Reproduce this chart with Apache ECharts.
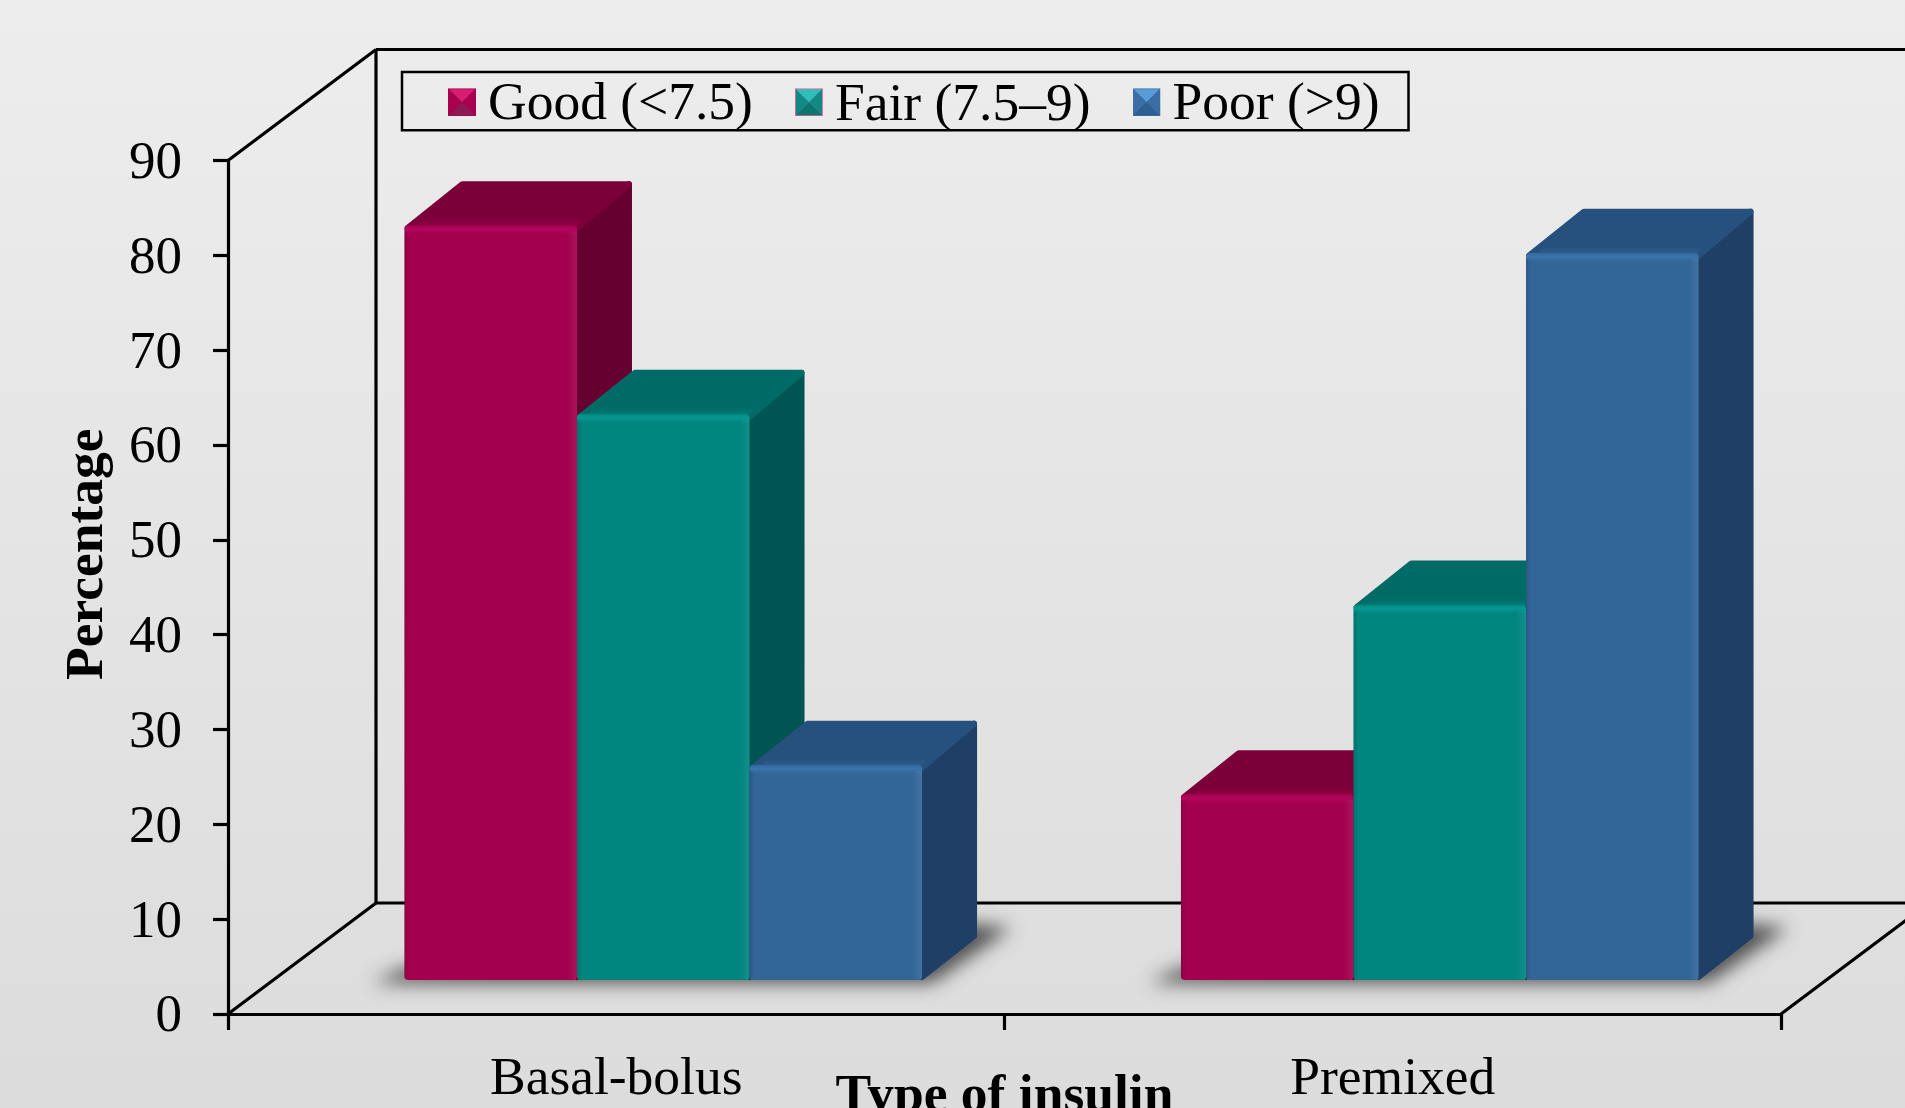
<!DOCTYPE html>
<html>
<head>
<meta charset="utf-8">
<title>Type of insulin</title>
<style>
html, body { margin: 0; padding: 0; overflow: hidden; }
#chart { width: 1905px; height: 1108px; }
</style>
<script src="https://cdn.jsdelivr.net/npm/echarts@6/dist/echarts.min.js"></script>
</head>
<body>
<div id="chart"></div>
<script>
// data
var categories = ['Basal-bolus', 'Premixed'];
var yTicks = [0, 90, 10];
var goodValues = [79.6, 19.6];
var fairValues = [59.7, 39.6];
var poorValues = [22.7, 76.7];

var FONT = '"Liberation Serif", "Times New Roman", serif';
var AXIS_WIDTH = 3.2;

// depth of the drawn box around the plot, and of the bars
var WALL_DX = 148, WALL_DY = 111;
var BAR_DX = 55, BAR_DY = 44;
var FLOOR_DX = 47, FLOOR_DY = 34;
var BAR_RATIO = 0.2222;

function legendIcon(top, mid, bottom, border) {
    var svg = '<svg xmlns="http://www.w3.org/2000/svg" width="30" height="30">' +
        '<rect width="30" height="30" fill="' + border + '"/>' +
        '<polygon points="1,1 29,1 15,15" fill="' + top + '"/>' +
        '<polygon points="1,1 15,15 1,29" fill="' + mid + '"/>' +
        '<polygon points="29,1 15,15 29,29" fill="' + mid + '"/>' +
        '<polygon points="1,29 29,29 15,15" fill="' + bottom + '"/></svg>';
    return 'image://data:image/svg+xml;charset=utf-8,' + encodeURIComponent(svg);
}

function barSeries(name, values, slot, c) {
    return {
        name: name,
        type: 'custom',
        z: 5,
        data: values.map(function (v, i) { return [i, v]; }),
        encode: { x: 0, y: 1 },
        itemStyle: { color: c.front },
        renderItem: function (params, api) {
            var cat = api.value(0);
            var p = api.coord([cat, api.value(1)]);
            var base = api.coord([cat, 0]);
            var w = api.size([1, 0])[0] * BAR_RATIO;
            var x0 = p[0] + FLOOR_DX + (slot - 0.5) * w;
            var x1 = x0 + w;
            var yTop = p[1] - FLOOR_DY;
            var yBase = base[1] - FLOOR_DY;
            var h = yBase - yTop;
            return {
                type: 'group',
                children: [
                    {
                        type: 'polygon',
                        shape: { points: [[x1, yTop + 3], [x1 + BAR_DX - 3, yTop - BAR_DY + 3], [x1 + BAR_DX - 3, yBase - BAR_DY], [x1, yBase - 3]] },
                        style: { fill: c.side, stroke: c.side, lineWidth: 6, lineJoin: 'round' }
                    },
                    {
                        type: 'polygon',
                        shape: { points: [[x0 + 3, yTop + 3], [x0 + BAR_DX + 3, yTop - BAR_DY + 3], [x1 + BAR_DX - 3, yTop - BAR_DY + 3], [x1, yTop + 3]] },
                        style: {
                            fill: { type: 'linear', x: 0, y: 0, x2: 0, y2: 1, colorStops: [
                                { offset: 0, color: c.top }, { offset: 0.75, color: c.top }, { offset: 1, color: c.front }
                            ] },
                            stroke: c.top, lineWidth: 6, lineJoin: 'round'
                        }
                    },
                    {
                        type: 'rect',
                        shape: { x: x0, y: yTop, width: w, height: h, r: 4 },
                        style: {
                            fill: { type: 'linear', x: 0, y: 0, x2: 0, y2: 1, colorStops: [
                                { offset: 0, color: c.front },
                                { offset: 4 / h, color: c.light },
                                { offset: 9 / h, color: c.front },
                                { offset: 1, color: c.front }
                            ] }
                        }
                    },
                    {
                        type: 'rect',
                        shape: { x: x0, y: yTop + 6, width: w, height: h - 7 },
                        style: {
                            fill: { type: 'linear', x: 0, y: 0, x2: 1, y2: 0, colorStops: [
                                { offset: 0, color: 'rgba(0,0,0,0.14)' },
                                { offset: 0.03, color: 'rgba(0,0,0,0)' },
                                { offset: 0.94, color: 'rgba(255,255,255,0)' },
                                { offset: 1, color: 'rgba(255,255,255,0.08)' }
                            ] }
                        }
                    }
                ]
            };
        }
    };
}

// soft shadow on the floor, under each group of bars.
// the shape sits off the page so that only its blurred shadow shows
var SHADOW_SHIFT = 4000;
var shadowSeries = {
    type: 'custom',
    silent: true,
    z: 3,
    data: categories.map(function (c, i) { return [i, 0]; }),
    encode: { x: 0, y: 1 },
    renderItem: function (params, api) {
        var base = api.coord([api.value(0), 0]);
        var w = api.size([1, 0])[0] * BAR_RATIO;
        var x0 = base[0] + FLOOR_DX - 1.5 * w - SHADOW_SHIFT;
        var x1 = x0 + 3 * w;
        var y = base[1] - FLOOR_DY;
        return {
            type: 'polygon',
            shape: { points: [[x0 - 32, y + 3], [x1 + 10, y + 3], [x1 + BAR_DX + 34, y - BAR_DY - 8], [x1 + BAR_DX, y - BAR_DY - 12], [x0, y - 12]] },
            style: { fill: '#000', shadowBlur: 18, shadowColor: 'rgba(55,55,55,0.85)', shadowOffsetX: SHADOW_SHIFT, shadowOffsetY: 0 }
        };
    }
};

// back wall and floor wireframe, taken from the axis ends
var frameSeries = {
    type: 'custom',
    silent: true,
    z: 1,
    data: [[0, 0]],
    encode: { x: 0, y: 1 },
    renderItem: function (params, api) {
        var half = api.size([1, 0])[0] / 2;
        var origin = api.coord([0, yTicks[0]]);
        var top = api.coord([0, yTicks[1]]);
        var end = api.coord([categories.length - 1, yTicks[0]]);
        var left = origin[0] - half, right = end[0] + half;
        var lines = [
            [left, top[1], left + WALL_DX, top[1] - WALL_DY],
            [left + WALL_DX, top[1] - WALL_DY, right + WALL_DX, top[1] - WALL_DY],
            [left + WALL_DX, top[1] - WALL_DY, left + WALL_DX, origin[1] - WALL_DY],
            [left + WALL_DX, origin[1] - WALL_DY, right + WALL_DX, origin[1] - WALL_DY],
            [left, origin[1], left + WALL_DX, origin[1] - WALL_DY],
            [right, origin[1], right + WALL_DX, origin[1] - WALL_DY]
        ];
        return {
            type: 'group',
            children: lines.map(function (l) {
                return {
                    type: 'line',
                    shape: { x1: l[0], y1: l[1], x2: l[2], y2: l[3] },
                    style: { stroke: '#000', lineWidth: AXIS_WIDTH }
                };
            })
        };
    }
};

var myChart = echarts.init(document.getElementById('chart'));

var option = {
    animation: false,
    backgroundColor: {
        type: 'linear', x: 0, y: 0, x2: 0, y2: 1,
        colorStops: [{ offset: 0, color: '#ededed' }, { offset: 1, color: '#dcdcdc' }]
    },
    grid: { left: 228, right: 124, top: 160.5, bottom: 94, outerBoundsMode: 'none' },
    legend: {
        left: 402,
        top: 72,
        orient: 'horizontal',
        padding: [5.75, 29, -2.65, 46],
        itemWidth: 28,
        itemHeight: 28,
        itemGap: 42,
        borderColor: '#000',
        borderWidth: 2.5,
        formatter: function (name) {
            return (name.indexOf('Fair') === 0 ? '{fair|' : '{item|') + name + '}';
        },
        textStyle: {
            fontFamily: FONT,
            fontSize: 53.5,
            color: '#000',
            rich: {
                item: { fontFamily: FONT, fontSize: 53.5, color: '#000', padding: [5, 0, 0, 7] },
                fair: { fontFamily: FONT, fontSize: 53.5, color: '#000', padding: [7.4, 0, 0, 7] }
            }
        },
        data: [
            { name: 'Good (<7.5)', icon: legendIcon('#d81e70', '#a8004f', '#8c1a52', '#a8004f') },
            { name: 'Fair (7.5–9)', icon: legendIcon('#2fbfba', '#0f8a85', '#0b7570', '#e0659a') },
            { name: 'Poor (>9)', icon: legendIcon('#5b9bd8', '#3a6ea5', '#2f5e90', '#3a6ea5') }
        ]
    },
    xAxis: {
        type: 'category',
        data: categories,
        name: 'Type of insulin',
        nameLocation: 'middle',
        nameGap: 56,
        nameMoveOverlap: false,
        nameTextStyle: { fontFamily: FONT, fontSize: 53.5, fontWeight: 'bold', color: '#000' },
        axisLine: { lineStyle: { color: '#000', width: AXIS_WIDTH } },
        axisTick: { show: true, length: 16, lineStyle: { color: '#000', width: AXIS_WIDTH } },
        axisLabel: { fontFamily: FONT, fontSize: 53.5, color: '#000', margin: 39 }
    },
    yAxis: {
        type: 'value',
        min: yTicks[0],
        max: yTicks[1],
        interval: yTicks[2],
        name: 'Percentage',
        nameLocation: 'middle',
        nameGap: 113,
        nameTextStyle: { fontFamily: FONT, fontSize: 53.5, fontWeight: 'bold', color: '#000', padding: [0, 0, 0, 66] },
        axisLine: { show: true, lineStyle: { color: '#000', width: AXIS_WIDTH } },
        axisTick: { show: true, length: 15, lineStyle: { color: '#000', width: AXIS_WIDTH } },
        axisLabel: {
            margin: 46,
            formatter: '{tick|{value}}',
            rich: { tick: { fontFamily: FONT, fontSize: 53, color: '#000', padding: [7, 0, 0, 0] } }
        },
        splitLine: { show: false }
    },
    series: [
        frameSeries,
        shadowSeries,
        barSeries('Good (<7.5)', goodValues, -1, { front: '#a3004f', top: '#7b0039', side: '#660030', light: '#b3055e' }),
        barSeries('Fair (7.5–9)', fairValues, 0, { front: '#00857f', top: '#006a66', side: '#005553', light: '#069891' }),
        barSeries('Poor (>9)', poorValues, 1, { front: '#326699', top: '#26507d', side: '#1f3f66', light: '#3b74ab' })
    ]
};

myChart.setOption(option);
</script>
</body>
</html>
